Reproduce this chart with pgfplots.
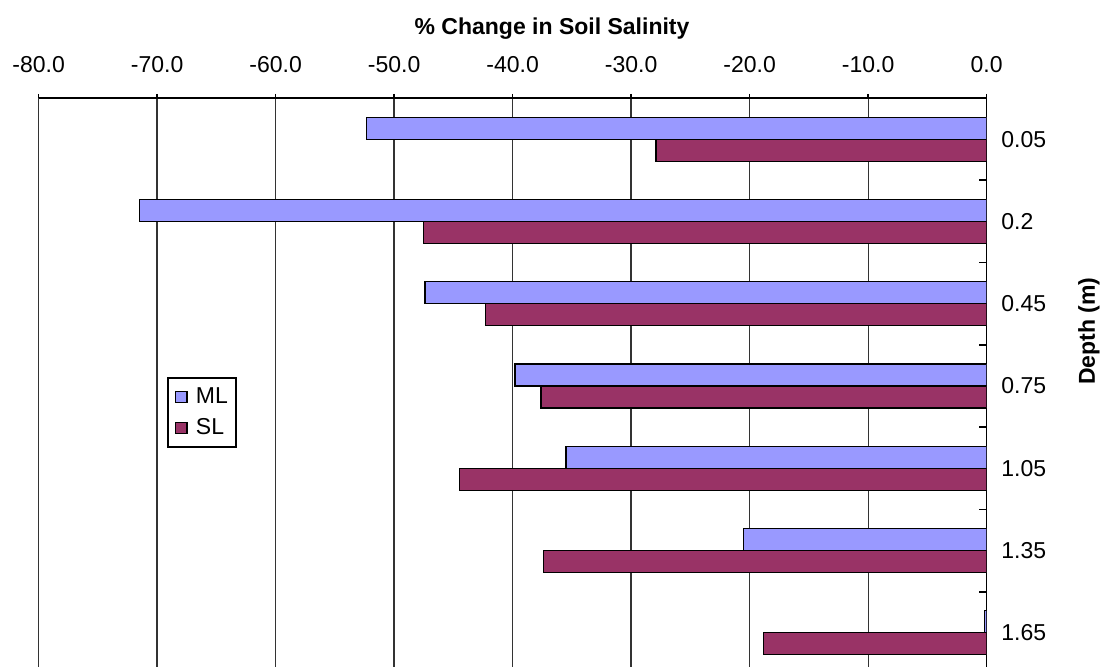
\documentclass[border=0pt]{standalone}
\usepackage{pgfplots}
\pgfplotsset{compat=1.18}
\usepackage{fontspec}
\setmainfont{Liberation Sans}
\definecolor{mlcol}{HTML}{9999FF}
\definecolor{slcol}{HTML}{993366}
\newcommand{\chartfont}{\fontsize{11.5}{13.8}\selectfont}

\begin{document}
\begin{tikzpicture}
% page frame: the plot runs on below the lower edge
\path[use as bounding box] (-19.3pt,3.5pt) rectangle (533.2pt,337pt);
\clip (-19.3pt,3.5pt) rectangle (533.2pt,337pt);
\begin{axis}[
  at={(0pt,0pt)}, anchor=south west,
  scale only axis, width=474pt, height=288pt,
  xbar, bar width=0.267,
  xmin=-80, xmax=0, ymin=-0.5, ymax=6.5,
  axis x line=top, axis y line=right,
  axis line style={-, black},
  x axis line style={line width=1pt},
  y axis line style={line width=0.8pt},
  font=\chartfont,
  xtick={-80,-70,...,0},
  xticklabels={-80.0,-70.0,-60.0,-50.0,-40.0,-30.0,-20.0,-10.0,0.0},
  xticklabel style={anchor=base, yshift=10.85pt, font=\chartfont},
  ytick={0,...,6},
  yticklabels={1.65,1.35,1.05,0.75,0.45,0.2,0.05},
  yticklabel style={anchor=west, inner xsep=0pt, xshift=5.2pt, font=\chartfont},
  minor ytick={0.5,1.5,...,5.5},
  tick align=outside,
  major tick length=2pt, minor tick length=4pt,
  major y tick style={draw=none},
  minor y tick style={xshift=-4pt, line width=0.8pt, black},
  major x tick style={line width=0.8pt, black},
  xmajorgrids=true,
  major grid style={black!80, line width=0.6pt},
  title={\% Change in Soil Salinity},
  title style={at={(axis description cs:0.5416,1.1233)}, anchor=center, yshift=-7pt, font=\chartfont\bfseries},
  ylabel={Depth (m)},
  ylabel style={at={(axis description cs:1.108,0.5955)}, anchor=center, font=\chartfont\bfseries},
  legend style={at={(axis description cs:0.1354,0.5156)}, anchor=north west,
    draw=black, line width=0.8pt, font=\chartfont,
    nodes={text height=8.5pt, text depth=1.5pt, inner sep=2pt},
    row sep=1.5pt, inner xsep=2pt, inner ysep=2.5pt},
  legend cell align=left,
]
\addplot[fill=mlcol, draw=black, line width=0.6pt, bar shift=0.1335,
  legend image code/.code={\path[draw=none, fill=none] (0pt,0pt) -- (10.1pt,0pt);
    \draw[fill=mlcol, draw=black, line width=0.6pt] (2pt,-2.8pt) rectangle (7.6pt,2.8pt);}]
  coordinates {(-52.3,6) (-71.5,5) (-47.4,4) (-39.8,3) (-35.5,2) (-20.5,1) (-0.2,0)};
\addplot[fill=slcol, draw=black, line width=0.6pt, bar shift=-0.1335,
  legend image code/.code={\path[draw=none, fill=none] (0pt,0pt) -- (10.1pt,0pt);
    \draw[fill=slcol, draw=black, line width=0.6pt] (2pt,-2.8pt) rectangle (7.6pt,2.8pt);}]
  coordinates {(-27.9,6) (-47.5,5) (-42.3,4) (-37.6,3) (-44.5,2) (-37.4,1) (-18.8,0)};
\legend{ML,SL}
\end{axis}
\end{tikzpicture}
\end{document}
